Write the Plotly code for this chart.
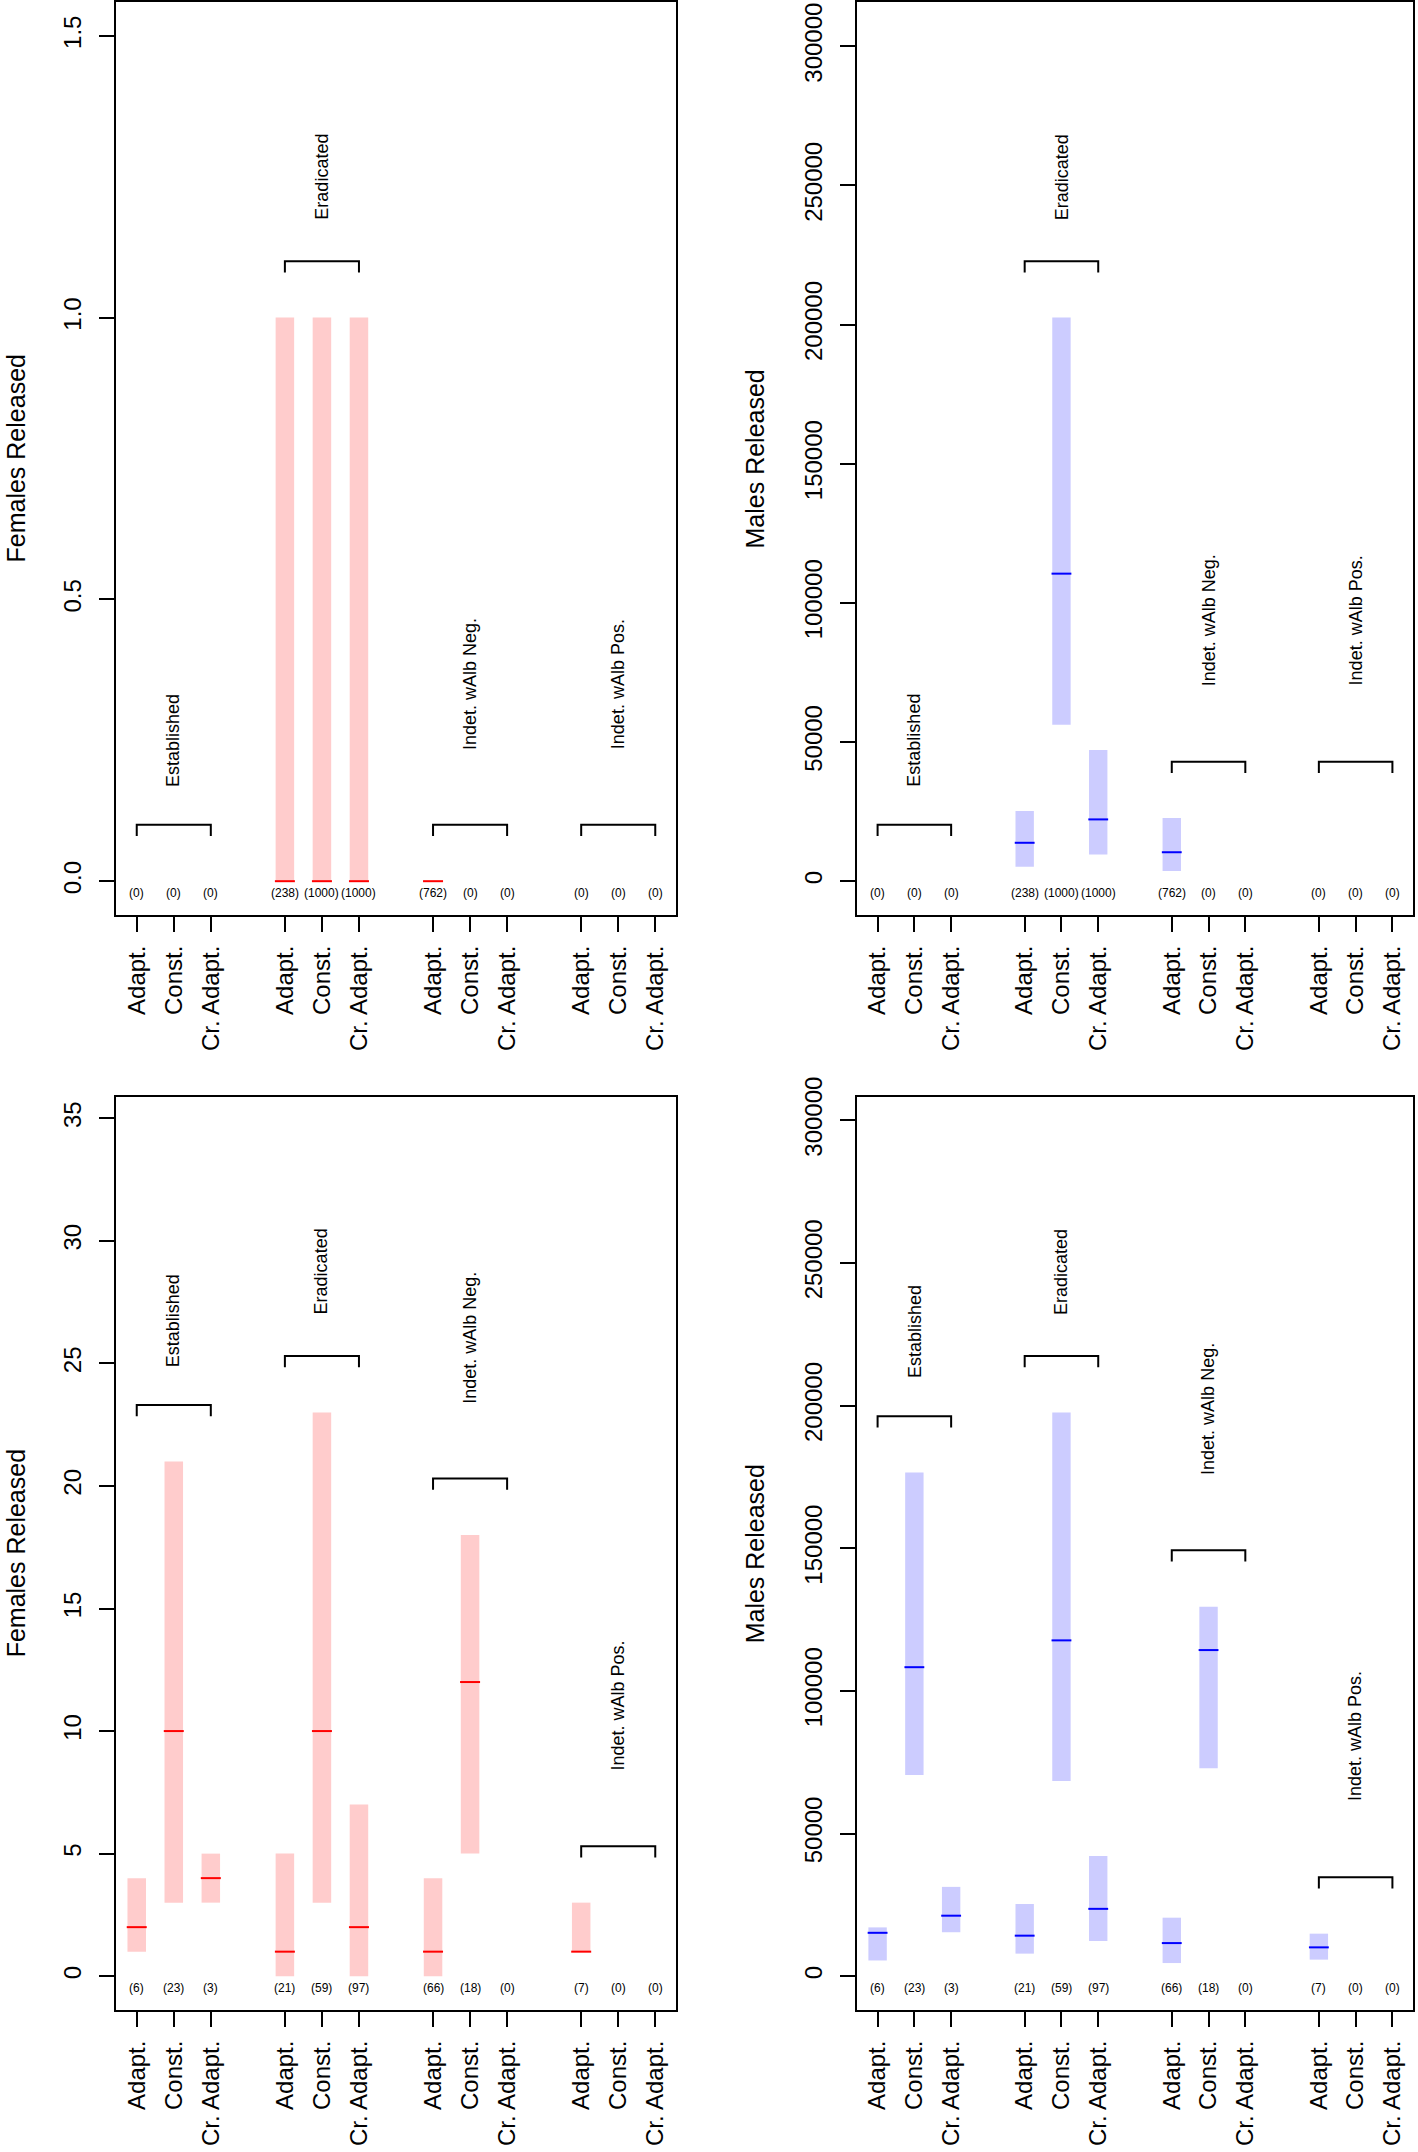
import plotly.graph_objects as go
from plotly.subplots import make_subplots

# ---------------- data ----------------
positions = [1, 2, 3, 5, 6, 7, 9, 10, 11, 13, 14, 15]
strategies = ["Adapt.", "Const.", "Cr. Adapt."] * 4
groups = ["Established", "Eradicated", "Indet. wAlb Neg.", "Indet. wAlb Pos."]

# top row
counts_top = [0, 0, 0, 238, 1000, 1000, 762, 0, 0, 0, 0, 0]
fem_top_lower = [None, None, None, 0, 0, 0, 0, None, None, None, None, None]
fem_top_median = [None, None, None, 0, 0, 0, 0, None, None, None, None, None]
fem_top_upper = [None, None, None, 1, 1, 1, 0, None, None, None, None, None]

male_top_lower = [None, None, None, 5200, 56200, 9600, 3700, None, None, None, None, None]
male_top_median = [None, None, None, 13800, 110500, 22200, 10400, None, None, None, None, None]
male_top_upper = [None, None, None, 25200, 202500, 47100, 22700, None, None, None, None, None]

# bottom row
counts_bot = [6, 23, 3, 21, 59, 97, 66, 18, 0, 7, 0, 0]
fem_bot_lower = [1, 3, 3, 0, 3, 0, 0, 5, None, 1, None, None]
fem_bot_median = [2, 10, 4, 1, 10, 2, 1, 12, None, 1, None, None]
fem_bot_upper = [4, 21, 5, 5, 23, 7, 4, 18, None, 3, None, None]

male_bot_lower = [5500, 70500, 15400, 7900, 68400, 12300, 4600, 72900, None, 5800, None, None]
male_bot_median = [15200, 108300, 21200, 14200, 117700, 23600, 11600, 114300, None, 10100, None, None]
male_bot_upper = [17100, 176500, 31300, 25300, 197600, 42100, 20500, 129500, None, 14900, None, None]

# ---------------- style ----------------
FONT = "Liberation Sans, Arial, Helvetica, sans-serif"
W, H = 1418, 2152
PINK_FILL, PINK_LINE = "#FFCCCC", "#FF0000"
BLUE_FILL, BLUE_LINE = "#CCCCFF", "#0000FF"

panels = [
    dict(row=1, col=1, counts=counts_top, lo=fem_top_lower, md=fem_top_median, up=fem_top_upper,
         fill=PINK_FILL, line=PINK_LINE, title="Females Released",
         ticks=[0, 0.5, 1.0, 1.5], ticktext=["0.0", "0.5", "1.0", "1.5"]),
    dict(row=1, col=2, counts=counts_top, lo=male_top_lower, md=male_top_median, up=male_top_upper,
         fill=BLUE_FILL, line=BLUE_LINE, title="Males Released",
         ticks=list(range(0, 300001, 50000)), ticktext=[str(v) for v in range(0, 300001, 50000)]),
    dict(row=2, col=1, counts=counts_bot, lo=fem_bot_lower, md=fem_bot_median, up=fem_bot_upper,
         fill=PINK_FILL, line=PINK_LINE, title="Females Released",
         ticks=list(range(0, 36, 5)), ticktext=[str(v) for v in range(0, 36, 5)]),
    dict(row=2, col=2, counts=counts_bot, lo=male_bot_lower, md=male_bot_median, up=male_bot_upper,
         fill=BLUE_FILL, line=BLUE_LINE, title="Males Released",
         ticks=list(range(0, 300001, 50000)), ticktext=[str(v) for v in range(0, 300001, 50000)]),
]

x_domains = {1: [116 / W, 676 / W], 2: [857 / W, 1413 / W]}
y_domains = {1: [1 - 915 / H, 1 - 2 / H], 2: [1 - 2010 / H, 1 - 1096.7 / H]}
title_x = {1: 16 / W, 2: 755 / W}

fig = make_subplots(rows=2, cols=2)
annotations = []

for i, p in enumerate(panels):
    r, c = p["row"], p["col"]
    ax = "" if i == 0 else str(i + 1)
    xref, yref = "x" + ax, "y" + ax
    valid = [k for k in range(12) if p["counts"][k] > 0]
    M = max(p["up"][k] for k in valid)
    ymax = 1.5 * M

    # interval bars
    fig.add_trace(go.Bar(
        x=[positions[k] for k in valid],
        y=[p["up"][k] - p["lo"][k] for k in valid],
        base=[p["lo"][k] for k in valid],
        width=0.5, marker=dict(color=p["fill"], line=dict(width=0)),
        showlegend=False, hoverinfo="skip"), row=r, col=c)

    # median lines
    mx, my = [], []
    for k in valid:
        mx += [positions[k] - 0.27, positions[k] + 0.27, None]
        my += [p["md"][k], p["md"][k], None]
    fig.add_trace(go.Scatter(x=mx, y=my, mode="lines",
                             line=dict(color=p["line"], width=2),
                             showlegend=False, hoverinfo="skip"), row=r, col=c)

    # group brackets
    bx, by = [], []
    prev = 0
    for g in range(4):
        idx = [g * 3 + j for j in range(3)]
        vals = [p["up"][k] for k in idx if p["counts"][k] > 0]
        gmax = max(vals) if vals else prev
        prev = gmax
        level = gmax + 0.1 * M
        drop = 0.02 * M
        x1, x3 = positions[idx[0]], positions[idx[2]]
        bx += [x1, x1, x3, x3, None]
        by += [level - drop, level, level, level - drop, None]
        off = 0.25 if groups[g].startswith("Indet") else 0.15
        annotations.append(dict(
            x=positions[idx[1]], y=level + off * M, xref=xref, yref=yref,
            text=groups[g], textangle=-90, showarrow=False,
            font=dict(size=18, family=FONT, color="black"),
            xanchor="center", yanchor="middle"))
    fig.add_trace(go.Scatter(x=bx, y=by, mode="lines",
                             line=dict(color="black", width=2),
                             showlegend=False, hoverinfo="skip"), row=r, col=c)

    # counts
    for k in range(12):
        annotations.append(dict(
            x=positions[k], y=0, xref=xref, yref=yref, yshift=-12,
            text="(%d)" % p["counts"][k], showarrow=False,
            font=dict(size=12, family=FONT, color="black"),
            xanchor="center", yanchor="middle"))

    # axis title
    annotations.append(dict(
        x=title_x[c], y=sum(y_domains[r]) / 2, xref="paper", yref="paper",
        text=p["title"], textangle=-90, showarrow=False,
        font=dict(size=25, family=FONT, color="black"),
        xanchor="center", yanchor="middle"))

    fig.update_xaxes(
        domain=x_domains[c], range=[0.44, 15.56], automargin=False,
        tickvals=positions, ticktext=strategies, tickangle=-90,
        ticks="outside", ticklen=15, tickwidth=2, tickcolor="black",
        ticklabelstandoff=4, ticklabeloverflow="allow",
        showline=True, linewidth=2, linecolor="black", mirror=True,
        showgrid=False, zeroline=False,
        tickfont=dict(size=24, family=FONT, color="black"),
        row=r, col=c)
    fig.update_yaxes(
        domain=y_domains[r], range=[-0.04 * ymax, 1.04 * ymax], automargin=False,
        tickvals=p["ticks"], ticktext=p["ticktext"], tickangle=-90,
        ticks="outside", ticklen=15, tickwidth=2, tickcolor="black",
        ticklabelstandoff=8, ticklabeloverflow="allow",
        showline=True, linewidth=2, linecolor="black", mirror=True,
        showgrid=False, zeroline=False,
        tickfont=dict(size=24, family=FONT, color="black"),
        row=r, col=c)

fig.update_layout(
    width=W, height=H,
    margin=dict(l=0, r=0, t=0, b=0, autoexpand=False),
    paper_bgcolor="white", plot_bgcolor="white",
    font=dict(family=FONT, color="black"),
    barmode="overlay", showlegend=False,
    annotations=annotations,
)

fig.write_html(
    "out.html",
    config={"displayModeBar": False},
    post_script="document.body.style.margin='0';document.body.style.overflow='hidden';",
)
